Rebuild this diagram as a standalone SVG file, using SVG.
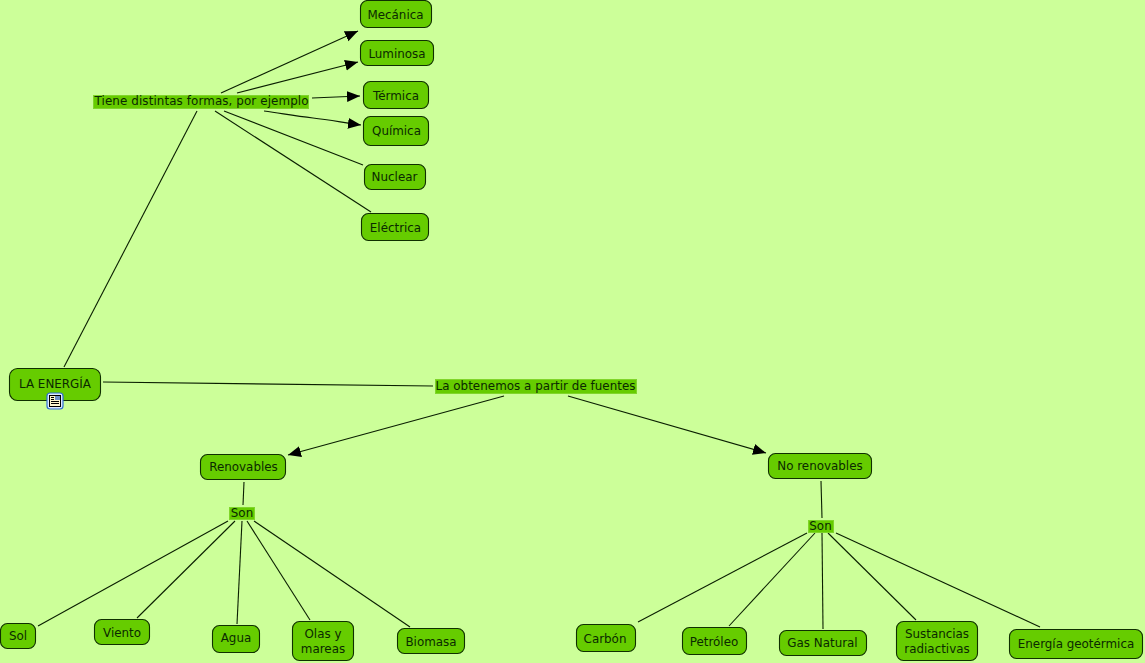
<svg xmlns="http://www.w3.org/2000/svg" width="1145" height="663" viewBox="0 0 1145 663">
<style>
text{font-family:"DejaVu Sans",Verdana,sans-serif;font-size:11.9px;fill:#0a2a00;text-anchor:middle}
.n{fill:#66cc00;stroke:#0f2f00;stroke-width:1.1}
.l{fill:#66cc00;stroke:#7fd62a;stroke-width:1}
.c line,.c path{stroke:#0a1f00;stroke-width:1.1;fill:none}
.a{marker-end:url(#ah)}
</style>
<defs><marker id="ah" markerUnits="userSpaceOnUse" markerWidth="14" markerHeight="12" refX="13" refY="6" orient="auto"><path d="M0 0.500L13 6L0 11.500Z" fill="#000"/></marker></defs>
<rect width="1145" height="663" fill="#ccff99"/>
<g class="c" id="connectors">
<line x1="64" y1="367" x2="197" y2="111"/>
<line x1="221" y1="93" class="a" x2="358" y2="31"/>
<line x1="237" y1="93" class="a" x2="358" y2="62"/>
<line x1="312" y1="98" class="a" x2="360" y2="96"/>
<path d="M264 111C285 114 295 116 313 118S345 123 361 125" class="a"/>
<line x1="224" y1="111" x2="363" y2="165"/>
<line x1="215" y1="111" x2="371" y2="212"/>
<line x1="103" y1="382" x2="433" y2="386"/>
<line x1="504" y1="396" class="a" x2="288" y2="455"/>
<line x1="568" y1="396" class="a" x2="766" y2="453"/>
<line x1="244" y1="482" x2="243" y2="505"/>
<line x1="228" y1="521" x2="38" y2="626"/>
<line x1="235" y1="521" x2="137" y2="618"/>
<line x1="242" y1="521" x2="237" y2="624"/>
<line x1="247" y1="521" x2="310" y2="620"/>
<line x1="254" y1="521" x2="410" y2="627"/>
<line x1="821" y1="481" x2="822" y2="518"/>
<line x1="807" y1="533" x2="638" y2="622"/>
<line x1="815" y1="533" x2="729" y2="626"/>
<line x1="822" y1="533" x2="823" y2="629"/>
<line x1="828" y1="533" x2="916" y2="620"/>
<line x1="836" y1="533" x2="1040" y2="627"/>
</g>
<g id="n-energia"><rect class="n" x="9.500" y="368.500" width="91" height="32" rx="8"/><text x="55" y="388">LA ENERGÍA</text></g>
<g id="n-icon"><rect x="47" y="393" width="16" height="16" rx="3" fill="#dcebff" stroke="#2f6fd0" stroke-width="1.200"/><rect x="49.500" y="395.500" width="11" height="11" fill="#fff8d0" stroke="#000" stroke-width="1"/><path d="M51 397.500h3M51 399.500h3M51 401.500h8M51 403.500h8" stroke="#000" stroke-width="1"/><rect x="55" y="396" width="5" height="4" fill="#6d8fc9"/></g>
<g id="l-formas"><rect class="l" x="93.500" y="95.500" width="215" height="13"/><text x="201.500" y="105" textLength="214">Tiene distintas formas, por ejemplo</text></g>
<g id="l-fuentes"><rect class="l" x="435.500" y="379.500" width="201" height="14"/><text x="535.500" y="390" textLength="200">La obtenemos a partir de fuentes</text></g>
<g id="l-son1"><rect class="l" x="229.500" y="507.500" width="25" height="12"/><text x="242" y="517">Son</text></g>
<g id="l-son2"><rect class="l" x="808.500" y="520.500" width="25" height="12"/><text x="820.500" y="530">Son</text></g>
<g id="n-mecanica"><rect class="n" x="360.500" y="0.500" width="71" height="27" rx="7"/><text x="395.500" y="19">Mecánica</text></g>
<g id="n-luminosa"><rect class="n" x="360.500" y="40.500" width="73" height="25" rx="7"/><text x="397" y="58">Luminosa</text></g>
<g id="n-termica"><rect class="n" x="363.500" y="81.500" width="65" height="27" rx="7"/><text x="396" y="100">Térmica</text></g>
<g id="n-quimica"><rect class="n" x="363.500" y="116.500" width="65" height="29" rx="7"/><text x="396.500" y="135">Química</text></g>
<g id="n-nuclear"><rect class="n" x="364.500" y="164.500" width="61" height="25" rx="7"/><text x="394.500" y="181">Nuclear</text></g>
<g id="n-electrica"><rect class="n" x="361.500" y="213.500" width="67" height="27" rx="7"/><text x="395.500" y="232">Eléctrica</text></g>
<g id="n-renovables"><rect class="n" x="200.500" y="454.500" width="85" height="25" rx="7"/><text x="243.500" y="471">Renovables</text></g>
<g id="n-norenovables"><rect class="n" x="768.500" y="453.500" width="103" height="25" rx="7"/><text x="820" y="470">No renovables</text></g>
<g id="n-sol"><rect class="n" x="0.500" y="623.500" width="35" height="25" rx="7"/><text x="18" y="640">Sol</text></g>
<g id="n-viento"><rect class="n" x="94.500" y="619.500" width="55" height="25" rx="7"/><text x="122" y="637">Viento</text></g>
<g id="n-agua"><rect class="n" x="212.500" y="625.500" width="47" height="27" rx="7"/><text x="236" y="642">Agua</text></g>
<g id="n-olas"><rect class="n" x="292.500" y="621.500" width="61" height="39" rx="7"/><text x="323" y="638">Olas y</text><text x="323" y="653">mareas</text></g>
<g id="n-biomasa"><rect class="n" x="397.500" y="628.500" width="67" height="25" rx="7"/><text x="431" y="646">Biomasa</text></g>
<g id="n-carbon"><rect class="n" x="576.500" y="624.500" width="59" height="27" rx="7"/><text x="605" y="643">Carbón</text></g>
<g id="n-petroleo"><rect class="n" x="682.500" y="627.500" width="64" height="27" rx="7"/><text x="714" y="646">Petróleo</text></g>
<g id="n-gas"><rect class="n" x="779.500" y="630.500" width="87" height="25" rx="7"/><text x="822.500" y="647">Gas Natural</text></g>
<g id="n-sustancias"><rect class="n" x="896.500" y="621.500" width="81" height="39" rx="7"/><text x="937" y="638">Sustancias</text><text x="937" y="653">radiactivas</text></g>
<g id="n-geotermica"><rect class="n" x="1009.500" y="629.500" width="133" height="29" rx="7"/><text x="1076" y="648">Energía geotérmica</text></g>
</svg>
